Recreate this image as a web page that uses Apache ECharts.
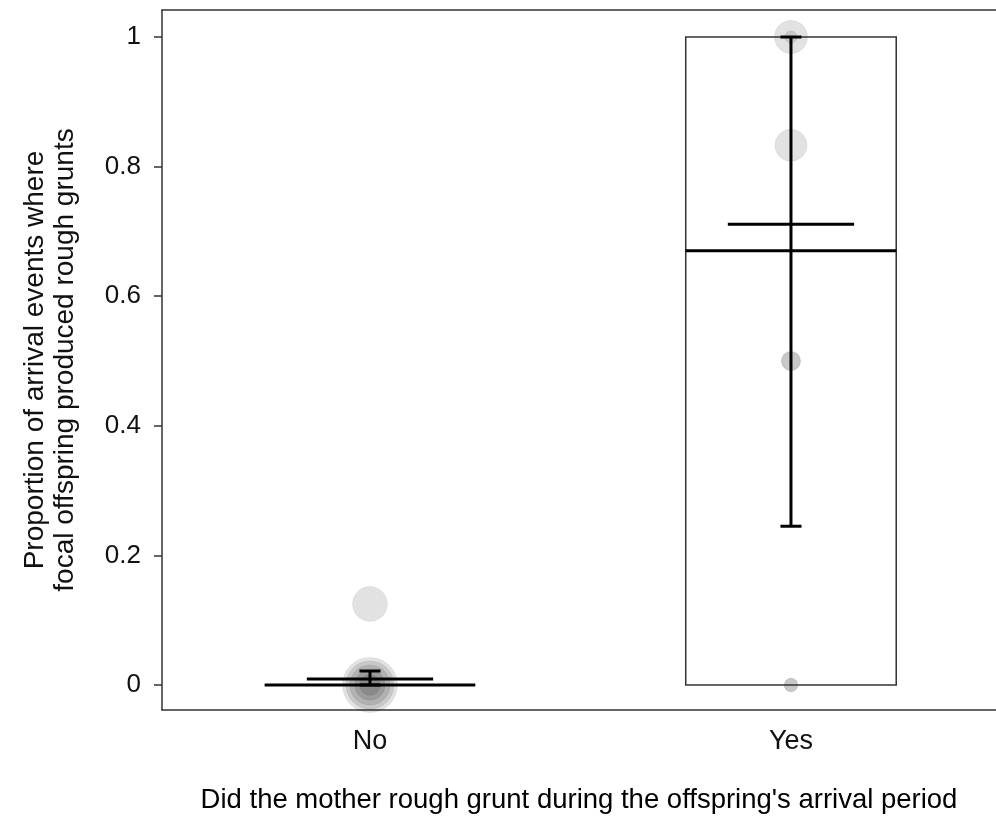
<!DOCTYPE html>
<html>
<head>
<meta charset="utf-8">
<title>Rough grunts during arrival events</title>
<script src="https://cdn.jsdelivr.net/npm/echarts@6/dist/echarts.min.js"></script>
<style>
  html, body { margin: 0; padding: 0; background: #ffffff; }
  #chart { width: 996px; height: 827px; }
</style>
</head>
<body>
<div id="chart"></div>
<script>
// Groups on the x axis and where each sits on the numeric scale
const categories = ['No', 'Yes'];
const catPos = [1, 2];

// Box summaries per group
const boxLower = [0, 0];
const boxUpper = [0, 1];
const medians = [0, 0.67];

// Mean with its error bar per group
const means = [0.0093, 0.711];
const errLower = [0, 0.245];
const errUpper = [0.0216, 1.0];

// Individual offspring: proportion and number of arrival events
const pointValuesNo = [0.125, 0, 0, 0, 0, 0];
const pointEventsNo = [40, 100, 76, 53, 30, 14];
const pointValuesYes = [1, 1, 0.833, 0.5, 0.5, 0, 0];
const pointEventsYes = [36, 5, 34, 12, 12, 6, 6];

// Tick labels
const yTicks = [0, 0.2, 0.4, 0.6, 0.8, 1];

const FONT = '"Liberation Sans", Arial, sans-serif';
const X_MIN = 0.506, X_MAX = 2.487;

const boxData = catPos.map((x, i) => [x, boxLower[i], boxUpper[i], medians[i]]);
const meanData = catPos.map((x, i) => [x, means[i], errLower[i], errUpper[i]]);
const pointData = [];
pointValuesNo.forEach((v, i) => pointData.push([catPos[0], v, pointEventsNo[i]]));
pointValuesYes.forEach((v, i) => pointData.push([catPos[1], v, pointEventsYes[i]]));

const BOX_WIDTH = 0.5;
const MEAN_WIDTH = 0.3;
const CAP_WIDTH = 0.05;

function renderBox(params, api) {
  const x = api.value(0);
  const lo = api.coord([x, api.value(1)]);
  const hi = api.coord([x, api.value(2)]);
  const med = api.coord([x, api.value(3)]);
  const w = api.size([BOX_WIDTH, 0])[0];
  return {
    type: 'group',
    children: [
      {
        type: 'rect',
        shape: { x: lo[0] - w / 2, y: hi[1], width: w, height: lo[1] - hi[1] },
        style: { fill: 'none', stroke: '#333333', lineWidth: 1.5 }
      },
      {
        type: 'line',
        shape: { x1: med[0] - w / 2, y1: med[1], x2: med[0] + w / 2, y2: med[1] },
        style: { stroke: '#000000', lineWidth: 3 }
      }
    ]
  };
}

function renderMean(params, api) {
  const x = api.value(0);
  const m = api.coord([x, api.value(1)]);
  const lo = api.coord([x, api.value(2)]);
  const hi = api.coord([x, api.value(3)]);
  const w = api.size([MEAN_WIDTH, 0])[0];
  const c = api.size([CAP_WIDTH, 0])[0];
  const st = { stroke: '#000000', lineWidth: 3 };
  return {
    type: 'group',
    children: [
      { type: 'line', shape: { x1: m[0] - w / 2, y1: m[1], x2: m[0] + w / 2, y2: m[1] }, style: st },
      { type: 'line', shape: { x1: lo[0], y1: lo[1], x2: hi[0], y2: hi[1] }, style: st },
      { type: 'line', shape: { x1: hi[0] - c / 2, y1: hi[1], x2: hi[0] + c / 2, y2: hi[1] }, style: st },
      { type: 'line', shape: { x1: lo[0] - c / 2, y1: lo[1], x2: lo[0] + c / 2, y2: lo[1] }, style: st }
    ]
  };
}

const frameLine = { show: true, onZero: false, lineStyle: { color: '#333333', width: 1.5 } };

const chart = echarts.init(document.getElementById('chart'), null, { renderer: 'canvas' });

chart.setOption({
  animation: false,
  backgroundColor: '#ffffff',
  grid: { left: 162, top: 10, right: 0, height: 700, show: false },
  xAxis: [
    {
      type: 'value',
      position: 'bottom',
      min: X_MIN, max: X_MAX,
      axisLine: frameLine,
      axisTick: { show: false },
      splitLine: { show: false },
      axisLabel: {
        customValues: catPos,
        formatter: v => categories[catPos.indexOf(v)],
        fontFamily: FONT, fontSize: 27, color: '#111111', margin: 18
      },
      name: "Did the mother rough grunt during the offspring's arrival period",
      nameLocation: 'middle',
      nameGap: 76,
      nameTextStyle: { fontFamily: FONT, fontSize: 27.5, color: '#000000' }
    },
    {
      type: 'value',
      position: 'top',
      min: X_MIN, max: X_MAX,
      axisLine: frameLine,
      axisTick: { show: false },
      axisLabel: { show: false },
      splitLine: { show: false }
    }
  ],
  yAxis: {
    type: 'value',
    position: 'left',
    min: -0.0386, max: 1.0417,
    axisLine: frameLine,
    axisTick: {
      show: true, length: 8, customValues: yTicks,
      lineStyle: { color: '#333333', width: 1.5 }
    },
    splitLine: { show: false },
    axisLabel: {
      customValues: yTicks,
      formatter: v => String(v),
      fontFamily: FONT, fontSize: 26, color: '#111111', margin: 21
    },
    name: 'Proportion of arrival events where\nfocal offspring produced rough grunts',
    nameLocation: 'middle',
    nameRotate: 90,
    nameGap: 82,
    nameTextStyle: { fontFamily: FONT, fontSize: 28, color: '#111111', lineHeight: 30 }
  },
  series: [
    {
      type: 'scatter',
      data: pointData,
      symbol: 'circle',
      symbolSize: v => 5.5 * Math.sqrt(v[2]),
      itemStyle: {
        color: 'rgba(0,0,0,0.14)',
        borderColor: 'rgba(0,0,0,0.08)',
        borderWidth: 1
      },
      z: 1,
      silent: true
    },
    {
      type: 'custom',
      data: boxData,
      renderItem: renderBox,
      z: 2,
      silent: true
    },
    {
      type: 'custom',
      data: meanData,
      renderItem: renderMean,
      z: 3,
      silent: true
    }
  ]
});
</script>
</body>
</html>
